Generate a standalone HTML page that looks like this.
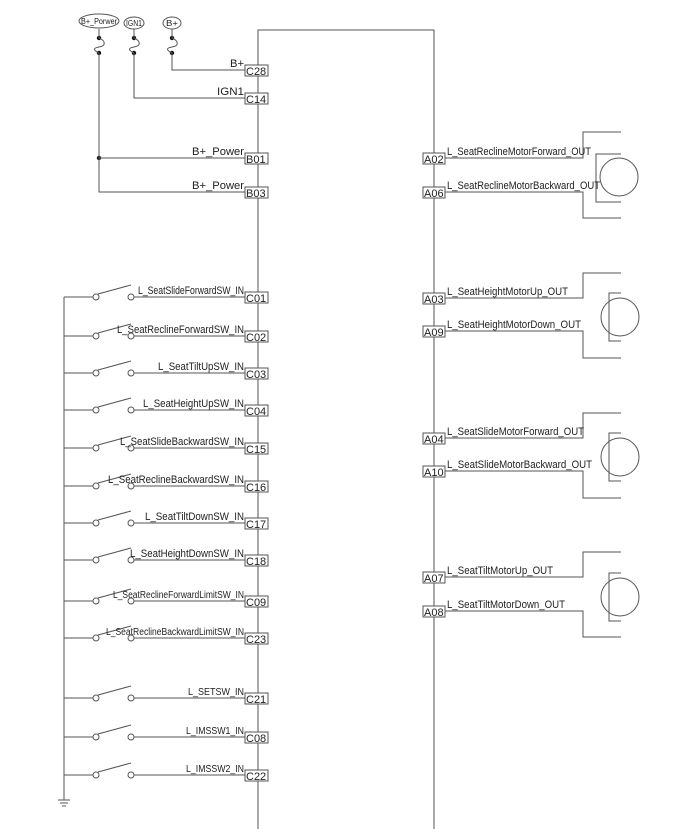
<!DOCTYPE html>
<html><head><meta charset="utf-8"><style>
html,body{margin:0;padding:0;background:#fff;}
svg{display:block;}
text{font-family:"Liberation Sans",sans-serif;fill:#222;font-size:11px;}
.l{text-anchor:end;}
</style></head><body>
<svg width="700" height="829" viewBox="0 0 700 829" xmlns="http://www.w3.org/2000/svg" stroke="#555" stroke-width="1" fill="none">
<path d="M258 829 V30 H434 V829"/>
<ellipse cx="99" cy="21" rx="20" ry="7"/>
<text x="81" y="24" style="font-size:8px" textLength="36" lengthAdjust="spacingAndGlyphs" stroke="none">B+_Porwer</text>
<ellipse cx="134" cy="23" rx="10" ry="6"/>
<text x="126" y="26" style="font-size:8px" textLength="16" lengthAdjust="spacingAndGlyphs" stroke="none">IGN1</text>
<ellipse cx="172" cy="23" rx="9" ry="6"/>
<text x="166" y="26" style="font-size:8px" textLength="12" lengthAdjust="spacingAndGlyphs" stroke="none">B+</text>
<g fill="#111" stroke="none">
<circle cx="99" cy="38" r="2.2"/><circle cx="99" cy="53" r="2.2"/>
<circle cx="134" cy="38" r="2.2"/><circle cx="134" cy="53" r="2.2"/>
<circle cx="172" cy="38" r="2.2"/><circle cx="172" cy="53" r="2.2"/>
<circle cx="99" cy="158" r="2.2"/>
</g>
<path d="M99 29 V38 C106 41 106 46 99 47 C93 48 93 50 99 53"/>
<path d="M134 29 V38 C141 41 141 46 134 47 C128 48 128 50 134 53"/>
<path d="M172 29 V38 C179 41 179 46 172 47 C166 48 166 50 172 53"/>
<path d="M172 53 V70 H245"/>
<path d="M134 53 V98 H245"/>
<path d="M99 53 V192 H245 M99 158 H245"/>
<g stroke="none">
<text x="230" y="67" textLength="14" lengthAdjust="spacingAndGlyphs">B+</text>
<text x="217" y="95" textLength="27" lengthAdjust="spacingAndGlyphs">IGN1</text>
<text x="192" y="155" textLength="52" lengthAdjust="spacingAndGlyphs">B+_Power</text>
<text x="192" y="189" textLength="52" lengthAdjust="spacingAndGlyphs">B+_Power</text>
</g>
<path d="M64 297 V800 M58 800 H70 M60 803 H68 M62 806 H66"/>
<g>
<path d="M64 297 H93 M134 297 H245 M98 294 L131 285"/><circle cx="96" cy="297" r="3"/><circle cx="131" cy="297" r="3"/>
<path d="M64 336 H93 M134 336 H245 M98 333 L131 324"/><circle cx="96" cy="336" r="3"/><circle cx="131" cy="336" r="3"/>
<path d="M64 373 H93 M134 373 H245 M98 370 L131 361"/><circle cx="96" cy="373" r="3"/><circle cx="131" cy="373" r="3"/>
<path d="M64 410 H93 M134 410 H245 M98 407 L131 398"/><circle cx="96" cy="410" r="3"/><circle cx="131" cy="410" r="3"/>
<path d="M64 448 H93 M134 448 H245 M98 445 L131 436"/><circle cx="96" cy="448" r="3"/><circle cx="131" cy="448" r="3"/>
<path d="M64 486 H93 M134 486 H245 M98 483 L131 474"/><circle cx="96" cy="486" r="3"/><circle cx="131" cy="486" r="3"/>
<path d="M64 523 H93 M134 523 H245 M98 520 L131 511"/><circle cx="96" cy="523" r="3"/><circle cx="131" cy="523" r="3"/>
<path d="M64 560 H93 M134 560 H245 M98 557 L131 548"/><circle cx="96" cy="560" r="3"/><circle cx="131" cy="560" r="3"/>
<path d="M64 601 H93 M134 601 H245 M98 598 L131 589"/><circle cx="96" cy="601" r="3"/><circle cx="131" cy="601" r="3"/>
<path d="M64 638 H93 M134 638 H245 M98 635 L131 626"/><circle cx="96" cy="638" r="3"/><circle cx="131" cy="638" r="3"/>
<path d="M64 698 H93 M134 698 H245 M98 695 L131 686"/><circle cx="96" cy="698" r="3"/><circle cx="131" cy="698" r="3"/>
<path d="M64 737 H93 M134 737 H245 M98 734 L131 725"/><circle cx="96" cy="737" r="3"/><circle cx="131" cy="737" r="3"/>
<path d="M64 775 H93 M134 775 H245 M98 772 L131 763"/><circle cx="96" cy="775" r="3"/><circle cx="131" cy="775" r="3"/>
</g>
<g stroke="none">
<text x="138" y="294" textLength="106" lengthAdjust="spacingAndGlyphs">L_SeatSlideForwardSW_IN</text>
<text x="117" y="333" textLength="127" lengthAdjust="spacingAndGlyphs">L_SeatReclineForwardSW_IN</text>
<text x="158" y="370" textLength="86" lengthAdjust="spacingAndGlyphs">L_SeatTiltUpSW_IN</text>
<text x="143" y="407" textLength="101" lengthAdjust="spacingAndGlyphs">L_SeatHeightUpSW_IN</text>
<text x="120" y="445" textLength="124" lengthAdjust="spacingAndGlyphs">L_SeatSlideBackwardSW_IN</text>
<text x="108" y="483" textLength="136" lengthAdjust="spacingAndGlyphs">L_SeatReclineBackwardSW_IN</text>
<text x="145" y="520" textLength="99" lengthAdjust="spacingAndGlyphs">L_SeatTiltDownSW_IN</text>
<text x="130" y="557" textLength="114" lengthAdjust="spacingAndGlyphs">L_SeatHeightDownSW_IN</text>
<text x="113" y="598" style="font-size:10px" textLength="131" lengthAdjust="spacingAndGlyphs">L_SeatReclineForwardLimitSW_IN</text>
<text x="106" y="635" style="font-size:10px" textLength="138" lengthAdjust="spacingAndGlyphs">L_SeatReclineBackwardLimitSW_IN</text>
<text x="188" y="695" style="font-size:10px" textLength="56" lengthAdjust="spacingAndGlyphs">L_SETSW_IN</text>
<text x="186" y="734" style="font-size:10px" textLength="58" lengthAdjust="spacingAndGlyphs">L_IMSSW1_IN</text>
<text x="186" y="772" style="font-size:10px" textLength="58" lengthAdjust="spacingAndGlyphs">L_IMSSW2_IN</text>
</g>
<g fill="#fff">
<rect x="245" y="65" width="23" height="11"/><rect x="245" y="93" width="23" height="11"/>
<rect x="245" y="153" width="23" height="11"/><rect x="245" y="187" width="23" height="11"/>
<rect x="245" y="292" width="23" height="11"/><rect x="245" y="331" width="23" height="11"/>
<rect x="245" y="368" width="23" height="11"/><rect x="245" y="405" width="23" height="11"/>
<rect x="245" y="443" width="23" height="11"/><rect x="245" y="481" width="23" height="11"/>
<rect x="245" y="518" width="23" height="11"/><rect x="245" y="555" width="23" height="11"/>
<rect x="245" y="596" width="23" height="11"/><rect x="245" y="633" width="23" height="11"/>
<rect x="245" y="693" width="23" height="11"/><rect x="245" y="732" width="23" height="11"/>
<rect x="245" y="770" width="23" height="11"/>
</g>
<g stroke="none">
<text x="246" y="75">C28</text><text x="246" y="103">C14</text>
<text x="246" y="163">B01</text><text x="246" y="197">B03</text>
<text x="246" y="302">C01</text><text x="246" y="341">C02</text>
<text x="246" y="378">C03</text><text x="246" y="415">C04</text>
<text x="246" y="453">C15</text><text x="246" y="491">C16</text>
<text x="246" y="528">C17</text><text x="246" y="565">C18</text>
<text x="246" y="606">C09</text><text x="246" y="643">C23</text>
<text x="246" y="703">C21</text><text x="246" y="742">C08</text>
<text x="246" y="780">C22</text>
</g>
<g>
<path d="M445 158 H583 V132 H621 M445 192 H583 V218 H621 M621 154 H596 V202 H621"/><circle cx="619" cy="177" r="19"/>
<path d="M445 298 H583 V273 H621 M445 331 H583 V358 H621 M621 293 H609 V341 H621"/><circle cx="620" cy="317" r="19"/>
<path d="M445 438 H583 V413 H621 M445 471 H583 V498 H621 M621 433 H609 V481 H621"/><circle cx="620" cy="457" r="19"/>
<path d="M445 577 H583 V552 H621 M445 611 H583 V637 H621 M621 573 H609 V621 H621"/><circle cx="620" cy="597" r="19"/>
</g>
<g fill="#fff">
<rect x="423" y="153" width="22" height="11"/><rect x="423" y="187" width="22" height="11"/>
<rect x="423" y="293" width="22" height="11"/><rect x="423" y="326" width="22" height="11"/>
<rect x="423" y="433" width="22" height="11"/><rect x="423" y="466" width="22" height="11"/>
<rect x="423" y="572" width="22" height="11"/><rect x="423" y="606" width="22" height="11"/>
</g>
<g stroke="none">
<text x="424" y="163">A02</text><text x="424" y="197">A06</text>
<text x="424" y="303">A03</text><text x="424" y="336">A09</text>
<text x="424" y="443">A04</text><text x="424" y="476">A10</text>
<text x="424" y="582">A07</text><text x="424" y="616">A08</text>
<text x="447" y="155" textLength="144" lengthAdjust="spacingAndGlyphs">L_SeatReclineMotorForward_OUT</text>
<text x="447" y="189" textLength="153" lengthAdjust="spacingAndGlyphs">L_SeatReclineMotorBackward_OUT</text>
<text x="447" y="295" textLength="121" lengthAdjust="spacingAndGlyphs">L_SeatHeightMotorUp_OUT</text>
<text x="447" y="328" textLength="134" lengthAdjust="spacingAndGlyphs">L_SeatHeightMotorDown_OUT</text>
<text x="447" y="435" textLength="137" lengthAdjust="spacingAndGlyphs">L_SeatSlideMotorForward_OUT</text>
<text x="447" y="468" textLength="145" lengthAdjust="spacingAndGlyphs">L_SeatSlideMotorBackward_OUT</text>
<text x="447" y="574" textLength="106" lengthAdjust="spacingAndGlyphs">L_SeatTiltMotorUp_OUT</text>
<text x="447" y="608" textLength="118" lengthAdjust="spacingAndGlyphs">L_SeatTiltMotorDown_OUT</text>
</g>
</svg>
</body></html>
